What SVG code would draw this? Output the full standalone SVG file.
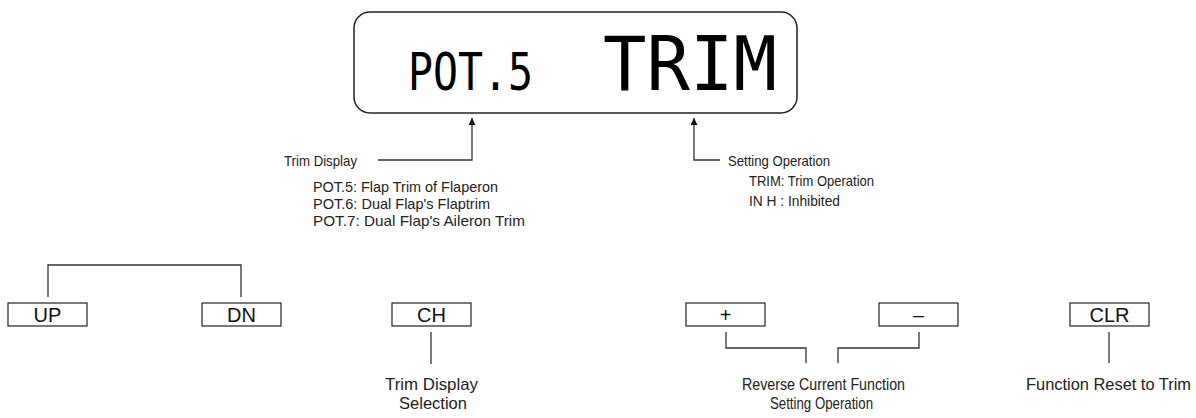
<svg xmlns="http://www.w3.org/2000/svg" width="1196" height="418" viewBox="0 0 1196 418">
<style>
.lbl{font-family:"Liberation Sans",Arial,sans-serif;fill:#222;}
.top{font-size:15px;}
.bot{font-size:17px;}
.key{font-family:"Liberation Sans",Arial,sans-serif;font-size:20px;fill:#111;text-anchor:middle;}
.box{fill:#fff;stroke:#222;stroke-width:1.2;}
.ln{fill:none;stroke:#333;stroke-width:1.3;}
.lcd{font-family:"DejaVu Sans Mono",monospace;fill:#000;}
</style>
<defs>
<marker id="ah" viewBox="0 0 10 10" refX="10" refY="5" markerWidth="7" markerHeight="7" markerUnits="userSpaceOnUse" orient="auto">
<path d="M0,0 L10,5 L0,10 z" fill="#111"/>
</marker>
</defs>
<g id="display">
<rect x="354" y="12" width="443" height="101" rx="16" ry="16" fill="#fff" stroke="#222" stroke-width="1.5"/>
<text class="lcd" x="408" y="90" font-size="51" textLength="125" lengthAdjust="spacingAndGlyphs">POT.5</text>
<text class="lcd" x="603" y="90" font-size="75" textLength="174" lengthAdjust="spacingAndGlyphs">TRIM</text>
</g>
<g id="connectors">
<polyline class="ln" points="378,160 472,160 472,118" marker-end="url(#ah)"/>
<polyline class="ln" points="720,160 694,160 694,118" marker-end="url(#ah)"/>
<polyline class="ln" points="48,297 48,265 241,265 241,297"/>
<line class="ln" x1="431" y1="332" x2="431" y2="364"/>
<polyline class="ln" points="726,332 726,348 806,348 806,363"/>
<polyline class="ln" points="919,332 919,348 838,348 838,363"/>
<line class="ln" x1="1109" y1="332" x2="1109" y2="363"/>
</g>
<g id="trim-display-label">
<text class="lbl top" x="284" y="166" textLength="73" lengthAdjust="spacingAndGlyphs">Trim Display</text>
<text class="lbl top" x="313" y="192" textLength="185" lengthAdjust="spacingAndGlyphs">POT.5: Flap Trim of Flaperon</text>
<text class="lbl top" x="313" y="209" textLength="177" lengthAdjust="spacingAndGlyphs">POT.6: Dual Flap's Flaptrim</text>
<text class="lbl top" x="313" y="226" textLength="212" lengthAdjust="spacingAndGlyphs">POT.7: Dual Flap's Aileron Trim</text>
</g>
<g id="setting-operation-label">
<text class="lbl top" x="728" y="166" textLength="102" lengthAdjust="spacingAndGlyphs">Setting Operation</text>
<text class="lbl top" x="749" y="186" textLength="125" lengthAdjust="spacingAndGlyphs">TRIM: Trim Operation</text>
<text class="lbl top" x="749" y="206" textLength="91" lengthAdjust="spacingAndGlyphs">IN H : Inhibited</text>
</g>
<g id="key-up">
<rect class="box" x="8" y="303" width="79" height="23"/>
<text class="key" x="47.5" y="322">UP</text>
</g>
<g id="key-dn">
<rect class="box" x="202" y="303" width="79" height="23"/>
<text class="key" x="241.5" y="322">DN</text>
</g>
<g id="key-ch">
<rect class="box" x="392" y="303" width="79" height="23"/>
<text class="key" x="431.5" y="322">CH</text>
</g>
<g id="key-plus">
<rect class="box" x="686" y="303" width="79" height="23"/>
<text class="key" x="725.5" y="322">+</text>
</g>
<g id="key-minus">
<rect class="box" x="879" y="303" width="79" height="23"/>
<text class="key" x="918.5" y="322">–</text>
</g>
<g id="key-clr">
<rect class="box" x="1070" y="303" width="79" height="23"/>
<text class="key" x="1109.5" y="322">CLR</text>
</g>
<g id="ch-label">
<text class="lbl bot" x="385" y="390" textLength="93" lengthAdjust="spacingAndGlyphs">Trim Display</text>
<text class="lbl bot" x="399" y="409" textLength="68" lengthAdjust="spacingAndGlyphs">Selection</text>
</g>
<g id="plusminus-label">
<text class="lbl bot" x="742" y="390" textLength="163" lengthAdjust="spacingAndGlyphs">Reverse Current Function</text>
<text class="lbl bot" x="770" y="409" textLength="103" lengthAdjust="spacingAndGlyphs">Setting Operation</text>
</g>
<g id="clr-label">
<text class="lbl bot" x="1026" y="390" textLength="165" lengthAdjust="spacingAndGlyphs">Function Reset to Trim</text>
</g>
</svg>
